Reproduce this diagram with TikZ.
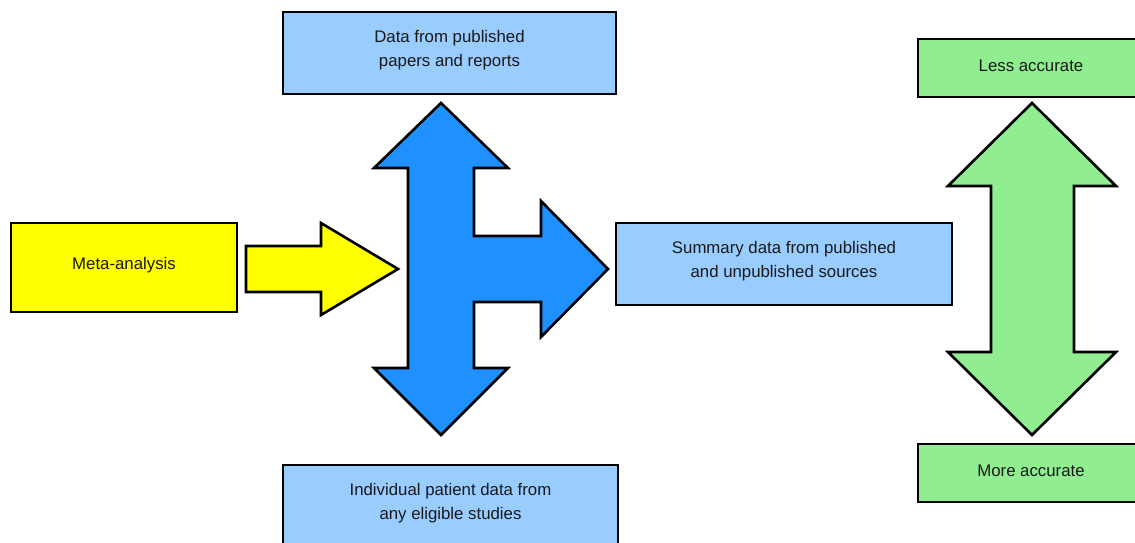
\documentclass[tikz,border=0pt]{standalone}
\usepackage{fontspec}
\setmainfont{Liberation Sans}
\definecolor{lblue}{HTML}{99CCFF}
\definecolor{dblue}{HTML}{1E90FF}
\definecolor{lgreen}{HTML}{90EE90}
\definecolor{yell}{HTML}{FFFF00}
\begin{document}
\begin{tikzpicture}[x=1pt,y=-1pt,
  box/.style={draw=black,line width=2.2pt,rectangle,inner sep=0pt,outer sep=0pt},
  txt/.style={align=center,inner sep=0pt,font=\fontsize{16.8}{24}\selectfont,text=black!90},
  blockarrow/.style={draw=black,line width=2.6pt,line join=miter}]
\useasboundingbox (0,0) rectangle (1135,542);
\fill[white] (0,0) rectangle (1135,542);
% boxes
\node[box,fill=yell,minimum width=226pt,minimum height=89pt] (meta) at (124,267.5) {};
\node[box,fill=lblue,minimum width=333pt,minimum height=82pt] (data) at (449.5,53) {};
\node[box,fill=lblue,minimum width=336pt,minimum height=82pt] (summary) at (784,264) {};
\node[box,fill=lblue,minimum width=335pt,minimum height=82pt] (indiv) at (450.5,506) {};
\node[box,fill=lgreen,minimum width=226pt,minimum height=58pt] (less) at (1031,68) {};
\node[box,fill=lgreen,minimum width=226pt,minimum height=58pt] (more) at (1031,473) {};
% texts
\node[txt] (metat) at ([yshift=2.5pt]meta.center) {Meta-analysis};
\node[txt] (datat) at ([yshift=2.5pt]data.center) {Data from published\\papers and reports};
\node[txt] (summaryt) at ([yshift=2.5pt]summary.center) {Summary data from published\\and unpublished sources};
\node[txt] (indivt) at ([yshift=2.5pt]indiv.center) {Individual patient data from\\any eligible studies};
\node[txt] (lesst) at ([yshift=2.5pt]less.center) {Less accurate};
\node[txt] (moret) at ([yshift=2.5pt]more.center) {More accurate};
% yellow block arrow
\draw[blockarrow,fill=yell] (246,246) -- (321,246) -- (321,223) -- (398,269) -- (321,315) -- (321,292) -- (246,292) -- cycle;
% blue three-way block arrow
\draw[blockarrow,fill=dblue] (441,103) -- (508,168) -- (474,168) -- (474,236) -- (541,236) -- (541,201) -- (608,269) -- (541,337) -- (541,302) -- (474,302) -- (474,368) -- (508,368) -- (441,435) -- (374,368) -- (408,368) -- (408,168) -- (374,168) -- cycle;
% green double block arrow
\draw[blockarrow,fill=lgreen] (1032,103) -- (1116,186) -- (1074,186) -- (1074,352) -- (1116,352) -- (1032,435) -- (948,352) -- (991,352) -- (991,186) -- (948,186) -- cycle;
\end{tikzpicture}
\end{document}
